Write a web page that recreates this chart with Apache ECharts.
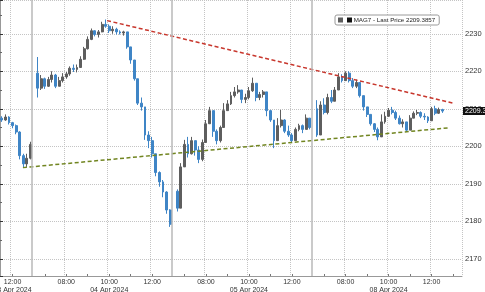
<!DOCTYPE html>
<html><head><meta charset="utf-8">
<script src="https://cdn.jsdelivr.net/npm/echarts@6/dist/echarts.min.js"></script>
<style>html,body{margin:0;padding:0;background:#fff}#c{width:485px;height:292px}</style>
</head><body><div id="c"></div><script>
// ---- sessions / axis ----
const sessionDates = ['03 Apr 2024','04 Apr 2024','05 Apr 2024','08 Apr 2024'];
const sessionStarts = ['11:30','06:30','06:30','06:30'];
const sessionBarCounts = [9,39,39,42];
const dateUnderTick = ['12:00','10:00','10:00','10:00'];
const tickLabels = ['08:00','10:00','12:00'];
const barMinutes = 10;
const yTicks = [2170,2180,2190,2200,2210,2220,2230];
const yMin = 2165.4, yMax = 2239;

// ---- series ----
const seriesName = 'MAG7';
const lastPrice = 2209.3857;
const opens = [
2207.5,2207.0,2207.8,2206.3,2205.5,2203.8,2197.5,2195.3,2196.8,
null,2219.5,2215.5,2218.0,2216.0,2217.8,2219.0,2216.0,2217.5,2218.5,2219.3,2220.8,2220.5,2221.0,2223.2,2226.0,2228.5,2230.8,2229.8,2230.5,2232.5,2232.0,2230.8,2231.2,2230.5,2230.2,2230.5,2226.5,2223.0,2218.0,2211.5,2210.5,2203.0,2201.5,2198.0,2193.0,2190.5,2187.8,2183.0,
null,2188.0,2183.5,2194.5,2200.5,2198.0,2201.5,2199.0,2196.5,2201.0,2206.0,2209.5,2204.0,2201.5,2205.0,2209.5,2211.3,2213.5,2214.5,2215.0,2212.5,2213.0,2214.8,2216.8,2213.0,2213.8,2214.5,2209.5,2207.0,2201.5,2205.5,2207.0,2204.0,2203.0,2201.5,2204.5,2205.5,2204.5,2207.5,
null,2210.0,2203.0,2211.0,2209.0,2213.0,2212.0,2215.0,2218.5,2217.5,2219.5,2217.5,2216.0,2217.0,2213.5,2210.5,2208.5,2206.0,2204.5,2202.5,2206.5,2208.0,2209.6,2209.0,2207.5,2206.0,2206.5,2204.3,2207.5,2208.8,2209.0,2208.0,2207.8,2206.8,2210.0,2208.8,2209.8
];
const closes = [
2207.0,2207.8,2206.3,2205.5,2203.8,2197.5,2195.3,2196.8,2200.5,
null,2215.5,2218.0,2216.0,2217.8,2219.0,2216.0,2217.5,2218.5,2219.3,2220.8,2220.5,2221.0,2223.2,2226.0,2228.5,2230.8,2229.8,2230.5,2232.5,2232.0,2230.8,2231.2,2230.5,2230.2,2230.5,2226.5,2223.0,2218.0,2211.5,2210.5,2203.0,2201.5,2198.0,2193.0,2190.5,2187.8,2183.0,2179.2,
null,2183.5,2194.5,2200.5,2198.0,2201.5,2199.0,2196.5,2201.0,2206.0,2209.5,2204.0,2201.5,2205.0,2209.5,2211.3,2213.5,2214.5,2215.0,2212.5,2213.0,2214.8,2216.8,2213.0,2213.8,2214.5,2209.5,2207.0,2201.5,2205.5,2207.0,2204.0,2203.0,2201.5,2204.5,2205.5,2204.5,2207.5,2205.0,
null,2203.0,2211.0,2209.0,2213.0,2212.0,2215.0,2218.5,2217.5,2219.5,2217.5,2216.0,2217.0,2213.5,2210.5,2208.5,2206.0,2204.5,2202.5,2206.5,2208.0,2209.6,2209.0,2207.5,2206.0,2206.5,2204.3,2207.5,2208.8,2209.0,2208.0,2207.8,2206.8,2210.0,2208.8,2209.8,2209.3857
];
const lows = [
2206.5,2206.8,2205.8,2204.8,2203.2,2196.5,2194.3,2194.5,2196.5,
null,2213.0,2215.0,2215.3,2215.8,2217.0,2215.5,2216.0,2217.0,2218.0,2218.8,2219.8,2219.7,2221.0,2223.0,2225.8,2228.3,2229.3,2229.0,2230.4,2231.6,2230.2,2230.0,2229.8,2229.8,2229.5,2226.0,2222.0,2217.5,2211.0,2209.5,2201.7,2199.5,2197.0,2192.0,2189.2,2186.4,2182.0,2178.5,
null,2182.6,2183.5,2194.5,2197.0,2197.8,2197.5,2195.5,2196.0,2201.0,2206.0,2202.5,2200.5,2201.0,2205.0,2209.5,2211.0,2213.0,2214.0,2211.5,2211.5,2212.5,2214.5,2212.0,2212.3,2213.0,2208.0,2206.5,2199.5,2201.5,2205.0,2203.5,2202.5,2201.0,2201.5,2204.0,2203.5,2204.5,2204.5,
null,2202.5,2203.0,2208.5,2208.5,2211.5,2212.0,2215.0,2217.0,2217.5,2217.0,2215.5,2215.5,2213.0,2209.5,2207.8,2205.5,2203.8,2201.6,2202.5,2206.0,2207.8,2208.5,2207.0,2205.8,2205.0,2203.8,2204.3,2207.5,2208.3,2207.5,2207.0,2206.2,2206.8,2208.3,2208.6,2208.9
];
const highs = [
2208.0,2208.5,2208.0,2206.5,2205.8,2204.0,2198.0,2198.0,2201.2,
null,2223.8,2219.0,2218.3,2218.5,2220.0,2219.3,2218.5,2219.5,2219.8,2221.3,2221.8,2221.8,2224.0,2226.5,2229.3,2231.4,2230.9,2231.0,2233.2,2233.8,2232.5,2232.0,2231.6,2230.9,2230.8,2230.5,2226.5,2223.0,2218.0,2213.0,2210.5,2204.0,2202.5,2198.0,2193.3,2191.0,2188.0,2183.2,
null,2188.5,2195.5,2201.7,2202.5,2202.5,2201.5,2200.0,2201.8,2207.0,2210.5,2209.5,2204.5,2205.5,2211.5,2212.3,2214.5,2215.8,2216.3,2215.0,2214.0,2215.8,2218.3,2216.8,2214.5,2215.0,2214.5,2209.7,2207.0,2207.5,2209.7,2207.2,2205.5,2203.5,2205.0,2206.0,2205.8,2208.5,2207.5,
null,2212.3,2212.0,2212.8,2214.0,2215.0,2215.8,2219.5,2219.2,2220.0,2220.0,2218.2,2217.8,2217.0,2213.5,2210.5,2208.5,2206.2,2205.0,2208.5,2209.2,2210.2,2210.5,2209.5,2208.2,2207.2,2206.5,2208.3,2209.3,2209.7,2209.3,2208.8,2208.0,2210.5,2210.8,2210.3,2210.0
];
// trend lines: [bar position, price]
const resistanceLine = [[29.9, 2233.5], [126.5, 2211.5]];
const supportLine = [[6.4, 2194.3], [125.1, 2204.9]];

// ---- build categories ----
const categories = [];
const dayBreaks = [];
sessionDates.forEach((d, k) => {
  const [hh, mm] = sessionStarts[k].split(':').map(Number);
  let m = hh * 60 + mm;
  if (k > 0) dayBreaks.push(categories.length);
  for (let i = 0; i < sessionBarCounts[k]; i++) {
    const t = String(Math.floor(m / 60)).padStart(2, '0') + ':' + String(m % 60).padStart(2, '0');
    categories.push(d + '|' + t + '|' + k);
    m += barMinutes;
  }
});
const totalBars = categories.length;
const candleData = opens.map((o, i) => o == null ? ['-', '-', '-', '-'] : [o, closes[i], lows[i], highs[i]]);
const legendName = seriesName + ' - Last Price ' + lastPrice.toFixed(4);
const FONT = '"Liberation Sans", Arial, sans-serif';
const timeOf = v => v.split('|')[1];
const isLabel = (i, v) => tickLabels.indexOf(timeOf(v)) >= 0;

const chart = echarts.init(document.getElementById('c'), null, {renderer: 'canvas'});
chart.setOption({
  animation: false,
  backgroundColor: '#fff',
  textStyle: {fontFamily: FONT},
  grid: {left: 0, right: 23, top: 0, bottom: 16, containLabel: false, outerBoundsMode: 'none'},
  legend: {
    left: 335, top: 15, padding: [2, 4, 2, 3],
    borderColor: '#9a9a9a', borderWidth: 1, borderRadius: 2, backgroundColor: '#fff',
    itemWidth: 3, itemHeight: 3, itemGap: 0,
    data: [{name: legendName, icon: 'rect'}],
    formatter: n => '{k|}' + ' ' + n,
    textStyle: {fontSize: 6.2, color: '#222', fontFamily: FONT,
      rich: {k: {width: 5, height: 5, backgroundColor: '#111'}}},
    selectedMode: false
  },
  xAxis: [{
    type: 'category', data: categories, boundaryGap: true,
    axisLine: {lineStyle: {color: '#999', width: 1}},
    axisTick: {show: true, inside: true, length: 2, alignWithLabel: true,
      interval: (i, v) => timeOf(v).endsWith(':00'), lineStyle: {color: '#777'}},
    axisLabel: {
      interval: isLabel, fontSize: 7, color: '#333', margin: 2, lineHeight: 8, fontFamily: FONT,
      formatter: v => {
        const [d, t, k] = v.split('|');
        return t === dateUnderTick[+k] ? t + '\n' + d : t;
      }
    },
    splitLine: {show: true, interval: isLabel, lineStyle: {color: '#c4c4c4', type: 'dotted', width: 1}}
  }, {
    type: 'value', min: 0, max: totalBars, show: false
  }],
  yAxis: {
    type: 'value', position: 'right', min: yMin, max: yMax,
    splitNumber: 7, minInterval: 10, maxInterval: 10, scale: true,
    axisLine: {show: true, lineStyle: {color: '#999', width: 1}},
    axisTick: {show: true, length: 3, lineStyle: {color: '#333'}},
    minorTick: {show: true, splitNumber: 2, length: 2, lineStyle: {color: '#666'}},
    axisLabel: {fontSize: 7.5, color: '#333', margin: 3, fontFamily: FONT,
      showMinLabel: false, showMaxLabel: false,
      formatter: v => yTicks.indexOf(Math.round(v * 100) / 100) >= 0 ? String(v) : ''},
    splitLine: {show: true, lineStyle: {color: '#c4c4c4', type: 'dotted', width: 1}}
  },
  series: [{
    type: 'line', xAxisIndex: 1, data: [], z: 0, silent: true,
    markLine: {silent: true, symbol: 'none', label: {show: false},
      lineStyle: {color: '#b8b8b8', type: 'solid', width: 1.5},
      data: dayBreaks.map(v => ({xAxis: v}))}
  }, {
    name: legendName, type: 'candlestick', data: candleData, barWidth: 2.4, z: 2,
    itemStyle: {color: '#5e5e5e', color0: '#3f85c6', borderColor: '#5e5e5e', borderColor0: '#3f85c6', borderWidth: 1},
    markLine: {silent: true, symbol: 'none', lineStyle: {width: 0, color: 'transparent'},
      label: {show: true, position: 'end', distance: 1, formatter: lastPrice.toFixed(4),
        backgroundColor: '#111', color: '#fff', fontSize: 7, padding: [1, 2, 0, 2], fontFamily: FONT},
      data: [{yAxis: lastPrice}]}
  }, {
    type: 'line', xAxisIndex: 1, data: resistanceLine, symbol: 'none', z: 3, silent: true,
    lineStyle: {color: '#c8372d', width: 1.5, type: [4, 2.5]}
  }, {
    type: 'line', xAxisIndex: 1, data: supportLine, symbol: 'none', z: 3, silent: true,
    lineStyle: {color: '#718520', width: 1.5, type: [4, 2.5]}
  }]
});
</script></body></html>
